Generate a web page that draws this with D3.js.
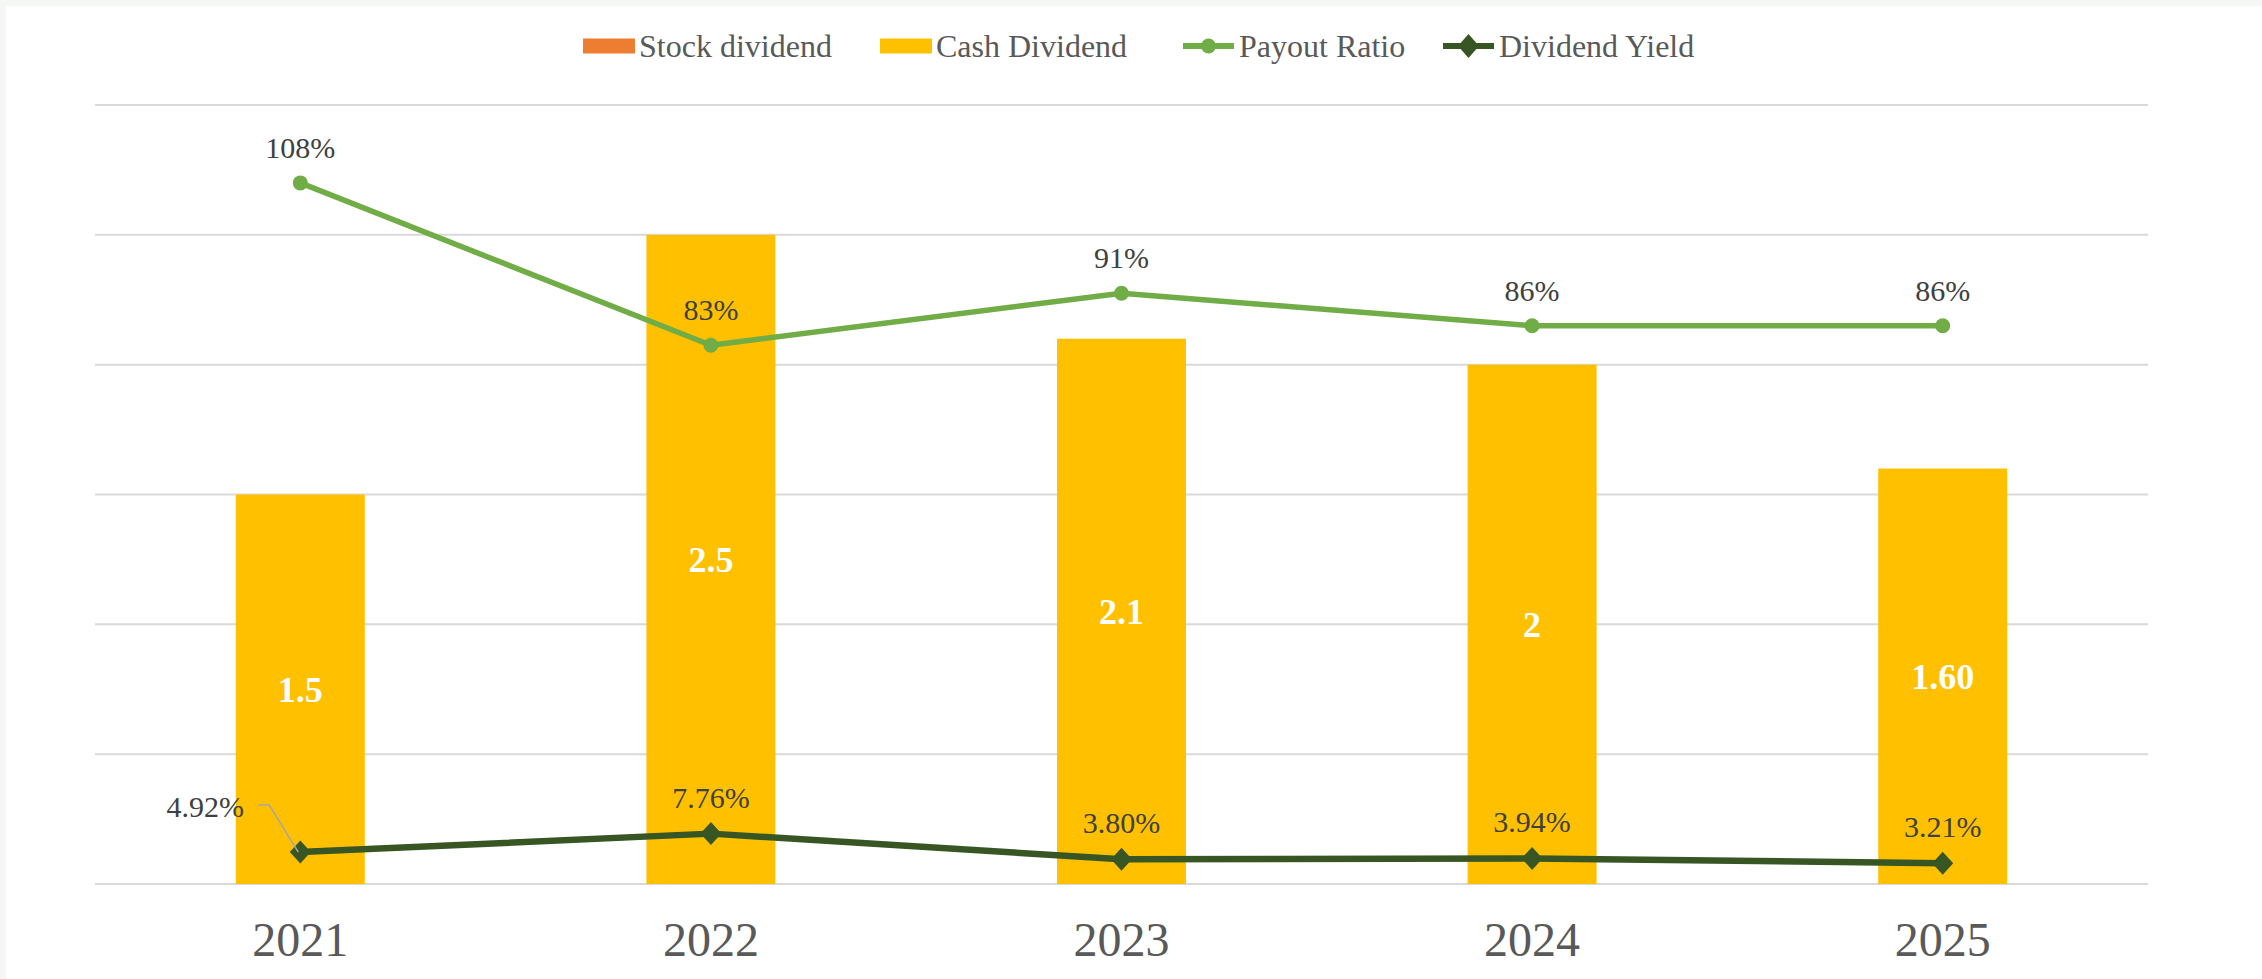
<!DOCTYPE html>
<html>
<head>
<meta charset="utf-8">
<script src="https://cdn.jsdelivr.net/npm/d3@7"></script>
<style>
  html, body { margin: 0; padding: 0; background: #f5f7f5; }
  svg { display: block; }
  text { font-family: "Liberation Serif", "Times New Roman", serif; }
</style>
</head>
<body>
<div id="chart"></div>
<script>
const W = 2262;
const H = 979;

const years = ["2021", "2022", "2023", "2024", "2025"];
const stockDividend = [0, 0, 0, 0, 0];
const cashDividend = [1.5, 2.5, 2.1, 2, 1.6];
const cashLabels = ["1.5", "2.5", "2.1", "2", "1.60"];
const payoutRatio = [1.08, 0.83, 0.91, 0.86, 0.86];
const payoutLabels = ["108%", "83%", "91%", "86%", "86%"];
const dividendYield = [0.0492, 0.0776, 0.038, 0.0394, 0.0321];
const yieldLabels = ["4.92%", "7.76%", "3.80%", "3.94%", "3.21%"];

const colors = {
  stock: "#ED7D31",
  cash: "#FFC000",
  payout: "#70AD47",
  yield: "#375623",
  grid: "#d9d9d9",
};

const margin = { left: 95, right: W - 2148, top: 105, bottom: H - 884 };

const svg = d3.select("#chart").append("svg")
  .attr("width", W).attr("height", H);

// white chart area with a thin pale frame on top/left
svg.append("rect").attr("x", 6).attr("y", 6).attr("width", W - 6).attr("height", H - 6).attr("fill", "#fff");

const x = d3.scaleBand().domain(years)
  .range([margin.left, W - margin.right])
  .paddingInner(0.686).paddingOuter(0.343);
const xc = (d) => x(d) + x.bandwidth() / 2;
const y = d3.scaleLinear().domain([0, 3]).range([H - margin.bottom, margin.top]);
const y2 = d3.scaleLinear().domain([0, 1.2]).range([H - margin.bottom, margin.top]);

// gridlines
svg.append("g").selectAll("line").data(y.ticks(6)).join("line")
  .attr("x1", margin.left).attr("x2", W - margin.right)
  .attr("y1", (d) => y(d)).attr("y2", (d) => y(d))
  .attr("stroke", colors.grid).attr("stroke-width", 2);

// stacked bars: stock dividend under cash dividend
const stackData = years.map((yr, i) => ({ year: yr, stock: stockDividend[i], cash: cashDividend[i] }));
const stacked = d3.stack().keys(["stock", "cash"])(stackData);
svg.append("g").selectAll("g").data(stacked).join("g")
  .attr("fill", (s) => colors[s.key])
  .selectAll("rect").data((s) => s).join("rect")
  .attr("x", (d) => x(d.data.year))
  .attr("width", x.bandwidth())
  .attr("y", (d) => y(d[1]))
  .attr("height", (d) => y(d[0]) - y(d[1]));

// bar value labels
svg.append("g").selectAll("text").data(years).join("text")
  .attr("x", (d) => xc(d))
  .attr("y", (d, i) => (y(0) + y(cashDividend[i] + stockDividend[i])) / 2)
  .attr("dy", "0.35em")
  .attr("text-anchor", "middle")
  .attr("fill", "#fff").attr("font-weight", "bold").attr("font-size", 36)
  .text((d, i) => cashLabels[i]);

// x axis labels
svg.append("g").selectAll("text").data(years).join("text")
  .attr("x", (d) => xc(d)).attr("y", 956)
  .attr("text-anchor", "middle")
  .attr("fill", "#595959").attr("font-size", 48)
  .text((d) => d);

// lines
const line = d3.line().x((d) => xc(d.year)).y((d) => y2(d.v));
const payoutPts = years.map((yr, i) => ({ year: yr, v: payoutRatio[i] }));
const yieldPts = years.map((yr, i) => ({ year: yr, v: dividendYield[i] }));

svg.append("path").datum(payoutPts).attr("d", line)
  .attr("fill", "none").attr("stroke", colors.payout).attr("stroke-width", 5.5).attr("stroke-linejoin", "round");
svg.append("g").selectAll("circle").data(payoutPts).join("circle")
  .attr("cx", (d) => xc(d.year)).attr("cy", (d) => y2(d.v)).attr("r", 7.5)
  .attr("fill", colors.payout);

svg.append("path").datum(yieldPts).attr("d", line)
  .attr("fill", "none").attr("stroke", colors.yield).attr("stroke-width", 6.5).attr("stroke-linejoin", "round");
svg.append("g").selectAll("path.mk").data(yieldPts).join("path")
  .attr("class", "mk")
  .attr("transform", (d) => `translate(${xc(d.year)},${y2(d.v)})`)
  .attr("d", "M0,-11.5L10.5,0L0,11.5L-10.5,0Z")
  .attr("fill", colors.yield);

// line labels
svg.append("g").selectAll("text").data(payoutPts).join("text")
  .attr("x", (d) => xc(d.year)).attr("y", (d) => y2(d.v) - 25)
  .attr("text-anchor", "middle")
  .attr("fill", "#404040").attr("font-size", 30)
  .text((d, i) => payoutLabels[i]);

svg.append("g").selectAll("text").data(yieldPts).join("text")
  .attr("x", (d, i) => (i === 0 ? xc(d.year) - 95 : xc(d.year)))
  .attr("y", (d, i) => (i === 0 ? y2(d.v) - 35 : y2(d.v) - 26))
  .attr("text-anchor", "middle")
  .attr("fill", "#404040").attr("font-size", 30)
  .text((d, i) => yieldLabels[i]);

// leader line for the first yield label
const p0 = yieldPts[0];
svg.append("path")
  .attr("d", `M${xc(p0.year) - 42},${y2(p0.v) - 47}h11L${xc(p0.year) - 2},${y2(p0.v)}`)
  .attr("fill", "none").attr("stroke", "#a6a6a6").attr("stroke-width", 1.5);

// legend
const legendItems = [
  { label: "Stock dividend", type: "rect", color: colors.stock, x: 583 },
  { label: "Cash Dividend", type: "rect", color: colors.cash, x: 880 },
  { label: "Payout Ratio", type: "circle", color: colors.payout, x: 1183 },
  { label: "Dividend Yield", type: "diamond", color: colors.yield, x: 1443 },
];
const legend = svg.append("g").selectAll("g").data(legendItems).join("g")
  .attr("transform", (d) => `translate(${d.x},46)`);
legend.filter((d) => d.type === "rect").append("rect")
  .attr("x", 0).attr("y", -7.5).attr("width", 52).attr("height", 15).attr("fill", (d) => d.color);
legend.filter((d) => d.type !== "rect").append("line")
  .attr("x1", 0).attr("x2", 51).attr("y1", 0).attr("y2", 0)
  .attr("stroke", (d) => d.color).attr("stroke-width", 6);
legend.filter((d) => d.type === "circle").append("circle")
  .attr("cx", 25.5).attr("cy", 0).attr("r", 7.5).attr("fill", (d) => d.color);
legend.filter((d) => d.type === "diamond").append("path")
  .attr("d", "M25.5,-12L36,0L25.5,12L15,0Z").attr("fill", (d) => d.color);
legend.append("text")
  .attr("x", 56).attr("y", 0).attr("dy", "0.35em")
  .attr("fill", "#595959").attr("font-size", 32)
  .text((d) => d.label);
</script>
</body>
</html>
